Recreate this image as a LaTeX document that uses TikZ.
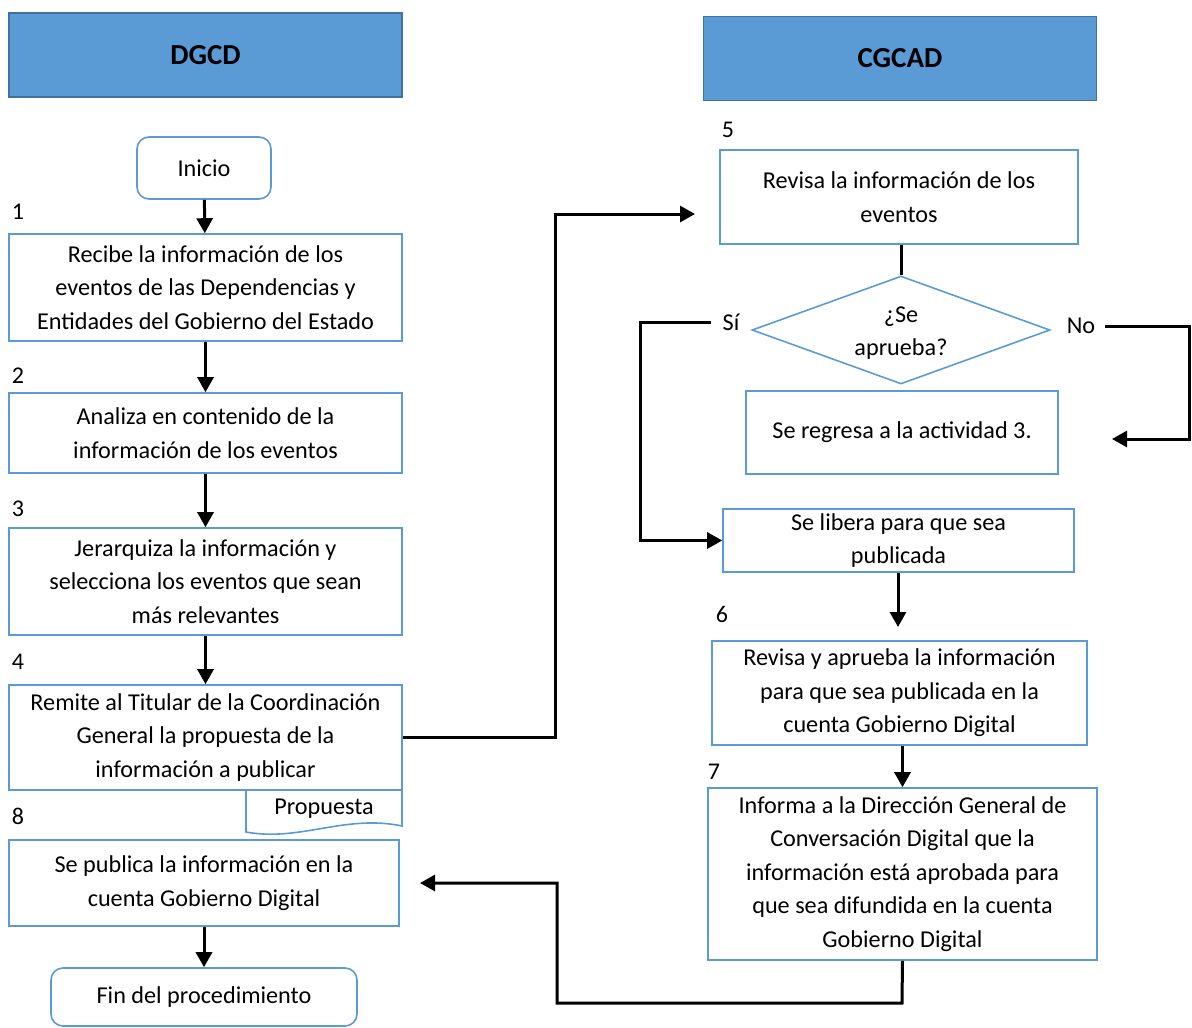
\documentclass[tikz,border=0pt]{standalone}
\usepackage{fontspec}
\setmainfont{Carlito}
\usetikzlibrary{shapes.geometric,arrows.meta,positioning}

\definecolor{azul}{HTML}{5B9BD5}
\definecolor{azulosc}{HTML}{41719C}

\tikzset{
    caja/.style={draw=azul, line width=1.6pt, rectangle, align=center, inner sep=0pt,
        font=\fontsize{24.2}{33.5}\selectfont},
    terminal/.style={caja, rounded corners=12pt},
    encabezado/.style={draw=azulosc, fill=azul, line width=1.8pt, inner sep=0pt,
        minimum width=393pt, minimum height=84pt, font=\fontsize{29}{34}\selectfont\bfseries},
    decision/.style={draw=azul, line width=1.6pt, diamond, inner sep=0pt,
        minimum width=298pt, minimum height=108pt},
    num/.style={font=\fontsize{24}{33}\selectfont, inner sep=0pt},
    etiq/.style={font=\fontsize{24.2}{33.5}\selectfont, inner sep=0pt, align=center},
    linea/.style={line width=3pt},
    flecha/.style={linea, -{Triangle[length=15pt,width=16pt]}},
}

\begin{document}
\begin{tikzpicture}[x=1pt,y=-1pt]
    \useasboundingbox (0,0) rectangle (1192,1028);

    % encabezados
    \node[encabezado] (dgcd) at (205.5,55) {DGCD};
    \node[encabezado] (cgcad) at (900,58.5) {CGCAD};

    % columna izquierda
    \node[terminal, minimum width=134pt, minimum height=62pt] (inicio) at (204,168) {Inicio};
    \node[num] (n1) at (18,212) {1};
    \node[caja, minimum width=393pt, minimum height=107pt] (b1) at (205.5,287.5)
        {Recibe la información de los\\eventos de las Dependencias y\\Entidades del Gobierno del Estado};
    \node[num] (n2) at (18,376) {2};
    \node[caja, minimum width=393pt, minimum height=80pt] (b2) at (205.5,433)
        {Analiza en contenido de la\\información de los eventos};
    \node[num] (n3) at (18,509) {3};
    \node[caja, minimum width=393pt, minimum height=107pt] (b3) at (205.5,581.5)
        {Jerarquiza la información y\\selecciona los eventos que sean\\más relevantes};
    \node[num] (n4) at (18,662) {4};
    \node[caja, minimum width=393pt, minimum height=105pt] (b4) at (205.5,737.5)
        {Remite al Titular de la Coordinación\\General la propuesta de la\\información a publicar};
    % documento
    \draw[draw=azul, line width=1.6pt] (246,790) -- (246,832)
        .. controls (300,842) and (345,814) .. (402,826) -- (402,790);
    \node[etiq] (prop) at (324,809) {Propuesta};
    \node[num] (n8) at (18,816) {8};
    \node[caja, minimum width=390pt, minimum height=86pt] (b8) at (204,883)
        {Se publica la información en la\\cuenta Gobierno Digital};
    \node[terminal, minimum width=306pt, minimum height=58pt] (fin) at (204,997) {Fin del procedimiento};

    \draw[flecha] (inicio) -- (b1);
    \draw[flecha] (b1) -- (b2);
    \draw[flecha] (b2) -- (b3);
    \draw[flecha] (b3) -- (b4);
    \draw[flecha] (b8) -- (fin);

    % columna derecha
    \node[num] (n5) at (728,130) {5};
    \node[caja, minimum width=358pt, minimum height=94pt] (b5) at (899,197)
        {Revisa la información de los\\eventos};
    \node[decision] (d) at (901,330) {};
    \node[etiq] (pregunta) at (901,333) {¿Se\\aprueba?};
    \node[etiq] (si) at (731,322) {Sí};
    \node[etiq] (no) at (1081,326) {No};
    \node[caja, minimum width=312pt, minimum height=83pt] (reg) at (902,432.5)
        {Se regresa a la actividad 3.};
    \node[caja, minimum width=351pt, minimum height=63pt] (lib) at (898.5,540.5)
        {Se libera para que sea\\publicada};
    \node[num] (n6) at (722,614) {6};
    \node[caja, minimum width=375pt, minimum height=104pt] (b6) at (899.5,693)
        {Revisa y aprueba la información\\para que sea publicada en la\\cuenta Gobierno Digital};
    \node[num] (n7) at (714,772) {7};
    \node[caja, minimum width=389pt, minimum height=172pt] (b7) at (902.5,874)
        {Informa a la Dirección General de\\Conversación Digital que la\\información está aprobada para\\que sea difundida en la cuenta\\Gobierno Digital};

    \coordinate (e5) at (695,214);
    \coordinate (csi) at (640,540.5);
    \coordinate (cno) at (1189,439);
    \coordinate (e3) at (1112,439);
    \coordinate (e6) at (898,627);
    \coordinate (e8) at (420,883);

    \draw[flecha] (b4.east) -- (555,737.5) |- (e5);
    \draw[linea] (b5.south -| d.north) -- (d.north);
    \draw[flecha] ([xshift=-11pt]si.west) -| (csi) -- (lib.west);
    \draw[flecha] ([xshift=10pt]no.east) -| (cno) -- (e3);
    \draw[flecha] (lib.south -| e6) -- (e6);
    \draw[flecha] (b6.south -| b7.north) -- (b7.north);
    \draw[flecha] (b7.south) -- (902,1003) -- (557,1003) |- (e8);
\end{tikzpicture}
\end{document}
